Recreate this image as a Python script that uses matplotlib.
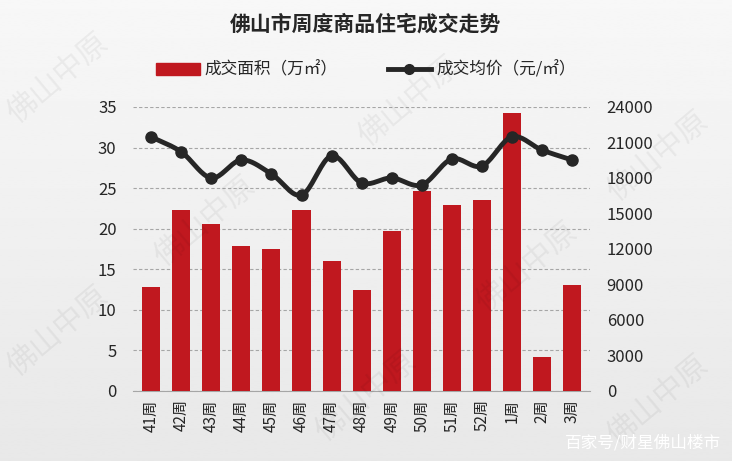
import numpy as np
import matplotlib.pyplot as plt
from matplotlib.lines import Line2D
from matplotlib.patches import Patch

plt.rcParams['font.family'] = ['Noto Sans CJK SC', 'DejaVu Sans']

# weekly data
weeks = ['41周', '42周', '43周', '44周', '45周', '46周', '47周', '48周',
         '49周', '50周', '51周', '52周', '1周', '2周', '3周']
area = [12.8, 22.3, 20.6, 17.9, 17.5, 22.3, 16.0, 12.4,
        19.7, 24.7, 22.9, 23.5, 34.2, 4.2, 13.1]
price = [21470, 20200, 18000, 19520, 18340, 16560, 19860, 17580,
         18000, 17410, 19600, 19010, 21470, 20360, 19520]

bar_color = '#C0181F'
line_color = '#262626'


def smooth(xs, ys, n=20):
    # catmull-rom, roughly like excel's smoothed line
    xs = np.asarray(xs, float)
    ys = np.asarray(ys, float)
    px = np.concatenate([[2 * xs[0] - xs[1]], xs, [2 * xs[-1] - xs[-2]]])
    py = np.concatenate([[2 * ys[0] - ys[1]], ys, [2 * ys[-1] - ys[-2]]])
    ox, oy = [], []
    for i in range(1, len(px) - 2):
        t = np.linspace(0, 1, n, endpoint=False)
        for p, o in ((px, ox), (py, oy)):
            p0, p1, p2, p3 = p[i - 1], p[i], p[i + 1], p[i + 2]
            o.extend(0.5 * (2 * p1 + (-p0 + p2) * t
                            + (2 * p0 - 5 * p1 + 4 * p2 - p3) * t ** 2
                            + (-p0 + 3 * p1 - 3 * p2 + p3) * t ** 3))
    ox.append(xs[-1])
    oy.append(ys[-1])
    return ox, oy


fig = plt.figure(figsize=(7.32, 4.61), dpi=100)

# grey gradient background
bg = fig.add_axes([0, 0, 1, 1], zorder=-10)
grad = np.linspace(0.97, 0.91, 256).reshape(-1, 1)
bg.imshow(grad, cmap='gray', vmin=0, vmax=1, aspect='auto', extent=[0, 1, 0, 1])
bg.set_axis_off()

# watermarks (kept inside the frame)
for (wx, wy) in [(0.08, 0.83), (0.56, 0.78), (0.9, 0.66), (0.28, 0.52),
                 (0.72, 0.42), (0.08, 0.28), (0.5, 0.14), (0.9, 0.13)]:
    fig.text(wx, wy, '佛山中原', fontsize=22, color='#000000', alpha=0.05,
             rotation=40, ha='center', va='center')

ax = fig.add_axes([0.182, 0.152, 0.624, 0.616])
ax.patch.set_alpha(0)
x = np.arange(len(weeks))
ax.bar(x, area, width=0.6, color=bar_color, zorder=3)
ax.set_ylim(0, 35)
ax.set_yticks(range(0, 36, 5))
ax.set_xlim(-0.6, len(weeks) - 0.4)
ax.set_xticks(x)
ax.set_xticklabels(weeks, rotation=90, fontsize=11)
ax.tick_params(axis='y', labelsize=12, length=0, pad=12, colors='#262626')
ax.tick_params(axis='x', length=0, pad=6, colors='#262626')
ax.grid(axis='y', color='#A6A6A6', linestyle=(0, (3, 2)), linewidth=0.8)
for s in ['top', 'right', 'left']:
    ax.spines[s].set_visible(False)
ax.spines['bottom'].set_color('#A6A6A6')

ax2 = ax.twinx()
ax2.set_ylim(0, 24000)
ax2.set_yticks(range(0, 24001, 3000))
sx, sy = smooth(x, price)
ax2.plot(sx, sy, color=line_color, linewidth=3.5, solid_capstyle='round', zorder=4)
ax2.plot(x, price, 'o', color=line_color, markersize=8, zorder=5)
ax2.tick_params(axis='y', labelsize=12, length=0, pad=12, colors='#262626')
for s in ax2.spines.values():
    s.set_visible(False)

fig.text(0.5, 0.948, '佛山市周度商品住宅成交走势', ha='center', va='center',
         fontsize=15, fontweight='bold', color='#262626')

handles = [Patch(color=bar_color),
           Line2D([], [], color=line_color, linewidth=3.5, marker='o', markersize=7)]
fig.legend(handles, ['成交面积（万㎡）', '成交均价（元/㎡）'], loc='center',
           bbox_to_anchor=(0.5, 0.848), ncol=2, frameon=False, fontsize=12,
           handlelength=2.6, columnspacing=3, handletextpad=0.3,
           labelcolor='#262626')

fig.text(0.985, 0.04, '百家号/财星佛山楼市', ha='right', va='center',
         fontsize=12, color='white')

fig.savefig('out.png', dpi=100)
